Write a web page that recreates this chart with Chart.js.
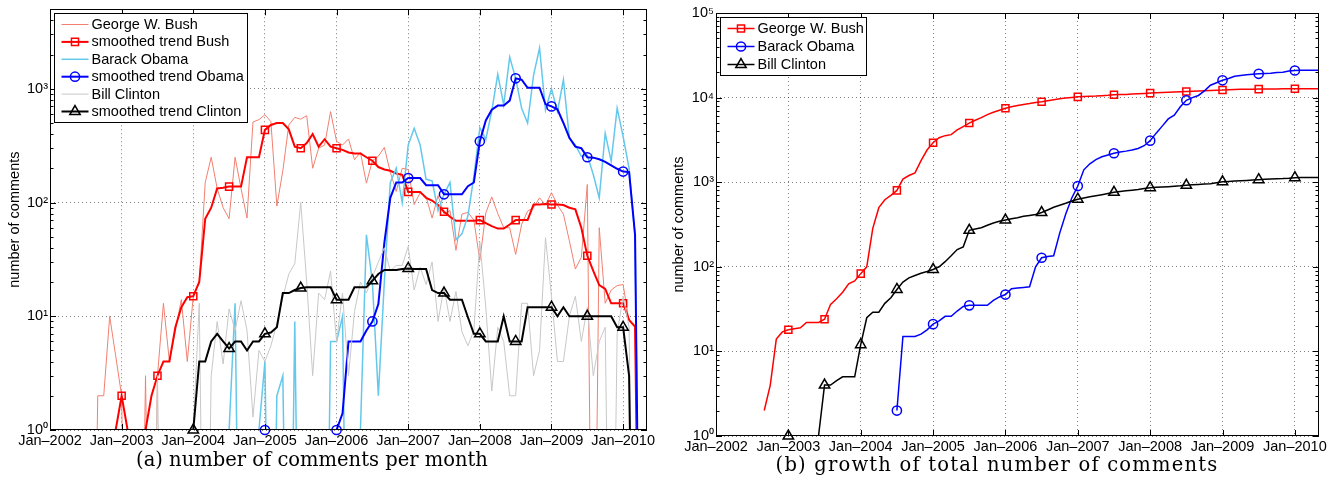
<!DOCTYPE html>
<html>
<head>
<meta charset="utf-8">
<script src="https://cdn.jsdelivr.net/npm/chart.js@4.4.1/dist/chart.umd.min.js"></script>
<style>
  body { margin: 0; background: #fff; width: 1330px; height: 480px; overflow: hidden; position: relative; }
  #left { position: absolute; left: 0; top: 0; }
  #right { position: absolute; left: 660px; top: 0; }
  .caption { position: absolute; font: 19.5px 'DejaVu Serif', serif; white-space: nowrap; transform: translateX(-50%); color: #000; }
</style>
</head>
<body>
<canvas id="left" width="660" height="480"></canvas>
<canvas id="right" width="670" height="480"></canvas>
<div class="caption" style="left:312px; top:448px">(a) number of comments per month</div>
<div class="caption" style="left:997px; top:453px; letter-spacing:1.2px">(b) growth of total number of comments</div>
<script>
// one value per month, Jan 2002 .. May 2010 (index 0 = Jan 2002), one row per year
const bushMonthly = [
  0, 0, 0, 0, 0, 0, 0, 0, 2, 2, 10, 4.5,
  2, 0, 0, 0, 3, 0, 3, 13, 4, 7.5, 14, 4,
  15, 20, 150, 250, 133, 90, 72, 250, 133, 73, 510, 535,
  590, 515, 93, 190, 480, 560, 540, 580, 200, 300, 320, 630,
  345, 320, 362, 238, 275, 148, 233, 255, 305, 185, 125, 200,
  195, 96, 122, 112, 73, 115, 79, 85, 38, 79, 82, 70,
  31, 81, 112, 80, 60, 60, 35, 64, 84, 90, 110, 95,
  122, 95, 79, 46, 26, 33, 144, 0, 60, 13, 17, 18.6,
  19, 9, 8, 0, 0
];
const bushTrend = [
  0, 0, 0, 0, 0, 0, 0, 0, 1, 1, 1, 1,
  2, 1, 1, 1, 1, 2, 3, 4, 4, 8, 12, 14.7,
  15, 20, 72, 90, 133, 135, 138, 138, 138, 250, 250, 250,
  435, 480, 500, 500, 440, 310, 300, 333, 400, 310, 360, 310,
  300, 290, 275, 270, 270, 250, 233, 205, 195, 190, 180, 175,
  124, 124, 124, 110, 104, 95, 83, 75, 69, 69, 69, 69,
  70, 66, 62, 59, 59, 64, 70, 70, 70, 96, 96, 97,
  96, 96, 95, 90, 87, 60, 34, 25, 18.8, 17.4, 13, 13,
  13, 9.3, 8.1, 0, 0
];
const obamaMonthly = [
  0, 0, 0, 0, 0, 0, 0, 0, 0, 0, 0, 0,
  0, 0, 0, 0, 0, 0, 0, 0, 0, 0, 0, 0,
  0, 0, 0, 0, 0, 0, 1, 13, 0, 0, 0, 1,
  4, 0, 2, 3, 0, 9, 0, 0, 0, 0, 0, 6,
  6, 10, 0, 0, 1, 52, 20, 2, 20, 150, 200, 100,
  320, 450, 320, 160, 155, 85, 118, 150, 47, 53, 76, 170,
  455, 360, 640, 1340, 720, 1900, 1235, 675, 500, 1320, 2280, 650,
  1000, 630, 1200, 368, 320, 255, 260, 176, 110, 405, 230, 675,
  380, 200, 50, 0, 0
];
const obamaTrend = [
  0, 0, 0, 0, 0, 0, 0, 0, 0, 0, 0, 0,
  0, 0, 0, 0, 0, 0, 0, 0, 0, 0, 0, 0,
  0, 0, 0, 0, 0, 0, 0, 0, 1, 1, 1, 1,
  1, 1, 1, 1, 0, 0, 0, 0, 0, 0, 0, 0,
  1, 1.4, 6, 6, 6, 7.5, 9, 12.8, 44, 110, 150, 150,
  164, 164, 164, 142, 142, 142, 118, 118, 118, 118, 139, 150,
  345, 527, 655, 711, 711, 787, 1235, 1200, 1020, 1020, 1020, 730,
  700, 660, 500, 370, 310, 300, 250, 248, 240, 228, 212, 198,
  187, 185, 52, 0, 0
];
const clintonMonthly = [
  0, 0, 0, 0, 0, 0, 0, 0, 0, 0, 0, 0,
  0, 0, 0, 0, 0, 0, 3, 0, 0, 0, 0, 0,
  1, 13, 0, 3, 9, 3.8, 11.6, 7.5, 13.7, 7.5, 1.3, 5,
  4, 5.5, 8.6, 14.7, 23.5, 29, 100, 20, 3, 16, 14, 25,
  6, 16, 3, 11, 20, 16, 22, 30, 40, 25, 28, 28,
  41, 17, 27, 19, 30, 9, 18, 9, 16.5, 7.3, 5.5, 7.5,
  45, 12, 2.2, 8, 6, 2, 2, 13, 13, 3, 5, 49,
  15, 4, 4, 10, 15, 6, 12, 3, 6, 8, 0, 7,
  15, 8, 0, 0, 0
];
const clintonTrend = [
  0, 0, 0, 0, 0, 0, 0, 0, 0, 0, 0, 0,
  0, 0, 0, 0, 0, 0, 0, 0, 0, 0, 0, 0,
  1, 4, 4, 6, 7, 6, 5.2, 6, 6, 5, 6, 6,
  7, 7.2, 8, 16, 16, 17, 17.7, 18, 18, 18, 18, 18,
  14, 14, 14, 18, 18, 18, 20.5, 23.5, 25.5, 25.5, 25.5, 26,
  26.3, 26, 26, 26, 17, 16, 16, 14, 14, 14, 9.8, 7,
  7, 6, 6, 6, 10, 6, 6, 6, 12, 12, 12, 12,
  12, 10, 12, 10, 10, 10, 10, 10, 10, 10, 10, 8,
  8, 3, 0, 0, 0
];

// running totals (null = no comments yet)
const bushTotal = [
  null, null, null, null, null, null, null, null, 2, 4, 14, 17,
  18, 18.5, 19, 22, 22, 22, 24, 36, 42, 50, 63, 68,
  83, 100, 285, 500, 620, 700, 800, 1090, 1200, 1290, 1800, 2400,
  2930, 3350, 3550, 3650, 4150, 4550, 5000, 5400, 5800, 6300, 6700, 7100,
  7500, 7800, 8050, 8300, 8500, 8750, 8950, 9200, 9450, 9700, 9900, 10050,
  10200, 10300, 10400, 10450, 10550, 10650, 10800, 10850, 10900, 11000, 11100, 11200,
  11300, 11400, 11500, 11560, 11620, 11700, 11800, 11870, 11960, 12050, 12150, 12250,
  12300, 12400, 12480, 12530, 12560, 12590, 12600, 12600, 12660, 12670, 12690, 12700,
  12720, 12730, 12740, 12740, 12740
];
const obamaTotal = [
  null, null, null, null, null, null, null, null, null, null, null, null,
  null, null, null, null, null, null, null, null, null, null, null, null,
  null, null, null, null, null, null, 2, 15, 15, 15, 16, 18,
  21, 23, 26, 26, 30, 34, 35, 35, 35, 35, 40, 44,
  47, 55, 56, 57, 58, 100, 128, 132, 135, 250, 420, 650,
  900, 1400, 1650, 1850, 2000, 2100, 2200, 2280, 2330, 2400, 2500, 2700,
  3100, 3800, 4600, 5600, 6200, 7800, 9300, 10000, 10600, 12000, 14000, 15000,
  16000, 16800, 17900, 18300, 18600, 18900, 19100, 19300, 19400, 19800, 20000, 20600,
  20900, 21000, 21100, 21100, 21100
];
const clintonTotal = [
  null, null, null, null, null, null, null, null, null, null, null, null,
  1, 1, 1, 1, 1, 1, 4, 4, 4.5, 5, 5, 5,
  12, 25, 29, 29, 37, 43, 54, 66, 74, 79, 84, 88,
  93, 100, 115, 135, 160, 172, 270, 280, 290, 310, 330, 345,
  357, 370, 380, 395, 405, 415, 438, 470, 505, 535, 565, 600,
  630, 650, 672, 692, 712, 735, 760, 775, 790, 805, 820, 840,
  860, 870, 878, 885, 895, 905, 920, 930, 940, 950, 960, 985,
  1010, 1020, 1030, 1040, 1050, 1060, 1070, 1080, 1090, 1100, 1105, 1115,
  1130, 1135, 1135, 1135, 1135
];

const months = bushMonthly.map((_, i) => i);
const yearTicks = [0, 12, 24, 36, 48, 60, 72, 84, 96];
const firstYear = 2002;
const monthlyTicks = [1, 10, 100, 1000];
const totalTicks = [1, 10, 100, 1000, 10000, 100000];

const SUP = ['\u2070', '\u00b9', '\u00b2', '\u00b3', '\u2074', '\u2075'];
const FONT = "'Liberation Sans', Arial, Helvetica, sans-serif";
Chart.defaults.font.family = FONT;
Chart.defaults.font.size = 14.5;
Chart.defaults.color = '#000';

// a log axis has no place for 0, so zero months go far below the frame and get clipped
const ZERO_FLOOR = 1e-3;
const onLog = arr => arr.map(v => v === 0 ? ZERO_FLOOR : v);

function lineSet(label, data, color, width, marker) {
  return {
    label: label, data: onLog(data), borderColor: color, borderWidth: width,
    pointRadius: 0, tension: 0, inLegend: true, marker: marker || null
  };
}

// markers every 6 months, drawn unclipped so the ones sitting on the axis stay whole
function markerSet(data, color, marker) {
  return {
    data: onLog(data), showLine: false, clip: false,
    pointStyle: marker.style,
    pointRadius: c => (c.dataIndex % 6 === 0 && c.raw >= 1) ? marker.r : 0,
    pointBorderColor: color, pointBackgroundColor: 'rgba(0,0,0,0)', pointBorderWidth: 1.5
  };
}

const squareMk = { style: 'rect', r: 5 };
const circleMk = { style: 'circle', r: 4.6 };
const triangleMk = { style: 'triangle', r: 6 };

// MATLAB-style box with inward ticks and log minor ticks
const matlabAxes = {
  id: 'matlabAxes',
  afterDatasetsDraw(chart) {
    const ctx = chart.ctx;
    const a = chart.chartArea;
    const x = chart.scales.x, y = chart.scales.y;
    ctx.save();
    ctx.strokeStyle = '#000';
    ctx.lineWidth = 1;
    ctx.beginPath();
    x.ticks.forEach(t => {
      const px = Math.round(x.getPixelForValue(t.value)) + 0.5;
      ctx.moveTo(px, a.bottom); ctx.lineTo(px, a.bottom - 6);
      ctx.moveTo(px, a.top); ctx.lineTo(px, a.top + 6);
    });
    for (let d = 1; d <= y.max; d *= 10) {
      for (let k = 1; k <= 9; k++) {
        const v = d * k;
        if (v > y.max) break;
        const py = Math.round(y.getPixelForValue(v)) + 0.5;
        const len = k === 1 ? 6 : 3.5;
        ctx.moveTo(a.left, py); ctx.lineTo(a.left + len, py);
        ctx.moveTo(a.right, py); ctx.lineTo(a.right - len, py);
      }
    }
    ctx.stroke();
    ctx.strokeRect(Math.round(a.left) + 0.5, Math.round(a.top) + 0.5,
      Math.round(a.right - a.left) - 1, Math.round(a.bottom - a.top) - 1);
    ctx.restore();
  }
};

// boxed legend in the upper left corner of the plot
const boxLegend = {
  id: 'boxLegend',
  afterDraw(chart, args, opts) {
    const ctx = chart.ctx;
    const items = chart.data.datasets.filter(d => d.inLegend);
    const x0 = Math.round(chart.chartArea.left + opts.dx) + 0.5;
    const y0 = Math.round(chart.chartArea.top + opts.dy) + 0.5;
    const h = opts.padTop * 2 + opts.rowHeight * (items.length - 1) + 2;
    ctx.save();
    ctx.fillStyle = '#fff';
    ctx.fillRect(x0, y0, opts.width, h);
    ctx.strokeStyle = '#000';
    ctx.lineWidth = 1;
    ctx.strokeRect(x0, y0, opts.width, h);
    ctx.font = '14.5px ' + FONT;
    ctx.textBaseline = 'middle';
    items.forEach((d, i) => {
      const cy = y0 + opts.padTop + 1 + i * opts.rowHeight;
      ctx.strokeStyle = d.borderColor;
      ctx.lineWidth = d.borderWidth;
      ctx.beginPath();
      ctx.moveTo(x0 + opts.lineX0, cy);
      ctx.lineTo(x0 + opts.lineX1, cy);
      ctx.stroke();
      if (d.marker) {
        ctx.lineWidth = 1.5;
        ctx.fillStyle = 'rgba(0,0,0,0)';
        Chart.helpers.drawPoint(ctx, { pointStyle: d.marker.style, radius: d.marker.r, borderWidth: 1.5, rotation: 0 },
          x0 + (opts.lineX0 + opts.lineX1) / 2, cy);
      }
      ctx.fillStyle = '#000';
      ctx.fillText(d.label, x0 + opts.textX, cy + 0.5);
    });
    ctx.restore();
  }
};

function axes(yMax, yTicks, yWidth, xHeight, titlePad) {
  return {
    x: {
      type: 'linear', min: 0, max: months.length - 1,
      afterBuildTicks: s => { s.ticks = yearTicks.map(v => ({ value: v })); },
      afterFit: s => { s.height = xHeight; },
      grid: { color: 'rgba(0,0,0,0.5)', lineWidth: 1, drawTicks: false },
      border: { display: false, dash: [1, 3] },
      ticks: {
        autoSkip: false, maxRotation: 0, minRotation: 0, padding: 2,
        callback: v => 'Jan\u2013' + (firstYear + v / 12)
      }
    },
    y: {
      type: 'logarithmic', min: 1, max: yMax,
      afterBuildTicks: s => { s.ticks = yTicks.map(v => ({ value: v })); },
      afterFit: s => { s.width = yWidth; },
      grid: { color: 'rgba(0,0,0,0.5)', lineWidth: 1, drawTicks: false },
      border: { display: false, dash: [1, 3] },
      ticks: {
        padding: 2, font: { size: 14.5, lineHeight: 1 },
        callback: v => '10' + SUP[Math.round(Math.log10(v))]
      },
      title: { display: true, text: 'number of comments', padding: { top: titlePad, bottom: 0 }, font: { size: 14.5 } }
    }
  };
}

function withOrder(sets) {
  return sets.map((d, i) => Object.assign(d, { order: sets.length - i }));
}

const bushRawColor = 'rgb(242,128,112)';
const obamaRawColor = 'rgb(100,200,236)';
const clintonRawColor = 'rgb(200,200,200)';

new Chart(document.getElementById('left'), {
  type: 'line',
  data: {
    labels: months,
    datasets: withOrder([
      lineSet('George W. Bush', bushMonthly, bushRawColor, 1),
      lineSet('smoothed trend Bush', bushTrend, '#ff0000', 2, squareMk),
      markerSet(bushTrend, '#ff0000', squareMk),
      lineSet('Barack Obama', obamaMonthly, obamaRawColor, 1.5),
      lineSet('smoothed trend Obama', obamaTrend, '#0000ff', 2, circleMk),
      markerSet(obamaTrend, '#0000ff', circleMk),
      lineSet('Bill Clinton', clintonMonthly, clintonRawColor, 1),
      lineSet('smoothed trend Clinton', clintonTrend, '#000000', 2, triangleMk),
      markerSet(clintonTrend, '#000000', triangleMk)
    ])
  },
  options: {
    responsive: false, animation: false, events: [], devicePixelRatio: 1,
    layout: { padding: { top: 8, right: 13, left: 0, bottom: 0 } },
    plugins: {
      legend: { display: false }, tooltip: { enabled: false },
      boxLegend: { dx: 4, dy: 4, width: 193, rowHeight: 17.4, padTop: 10, lineX0: 7, lineX1: 34, textX: 37 }
    },
    scales: axes(5000, monthlyTicks, 50, 50, 6)
  },
  plugins: [matlabAxes, boxLegend]
});

new Chart(document.getElementById('right'), {
  type: 'line',
  data: {
    labels: months,
    datasets: withOrder([
      lineSet('George W. Bush', bushTotal, '#ff0000', 1.5, squareMk),
      markerSet(bushTotal, '#ff0000', squareMk),
      lineSet('Barack Obama', obamaTotal, '#0000ff', 1.5, circleMk),
      markerSet(obamaTotal, '#0000ff', circleMk),
      lineSet('Bill Clinton', clintonTotal, '#000000', 1.5, triangleMk),
      markerSet(clintonTotal, '#000000', triangleMk)
    ])
  },
  options: {
    responsive: false, animation: false, events: [], devicePixelRatio: 1,
    layout: { padding: { top: 13, right: 11, left: 0, bottom: 0 } },
    plugins: {
      legend: { display: false }, tooltip: { enabled: false },
      boxLegend: { dx: 4, dy: 4, width: 146, rowHeight: 18, padTop: 10, lineX0: 7, lineX1: 34, textX: 37 }
    },
    scales: axes(100000, totalTicks, 56, 44, 10)
  },
  plugins: [matlabAxes, boxLegend]
});
</script>
</body>
</html>
